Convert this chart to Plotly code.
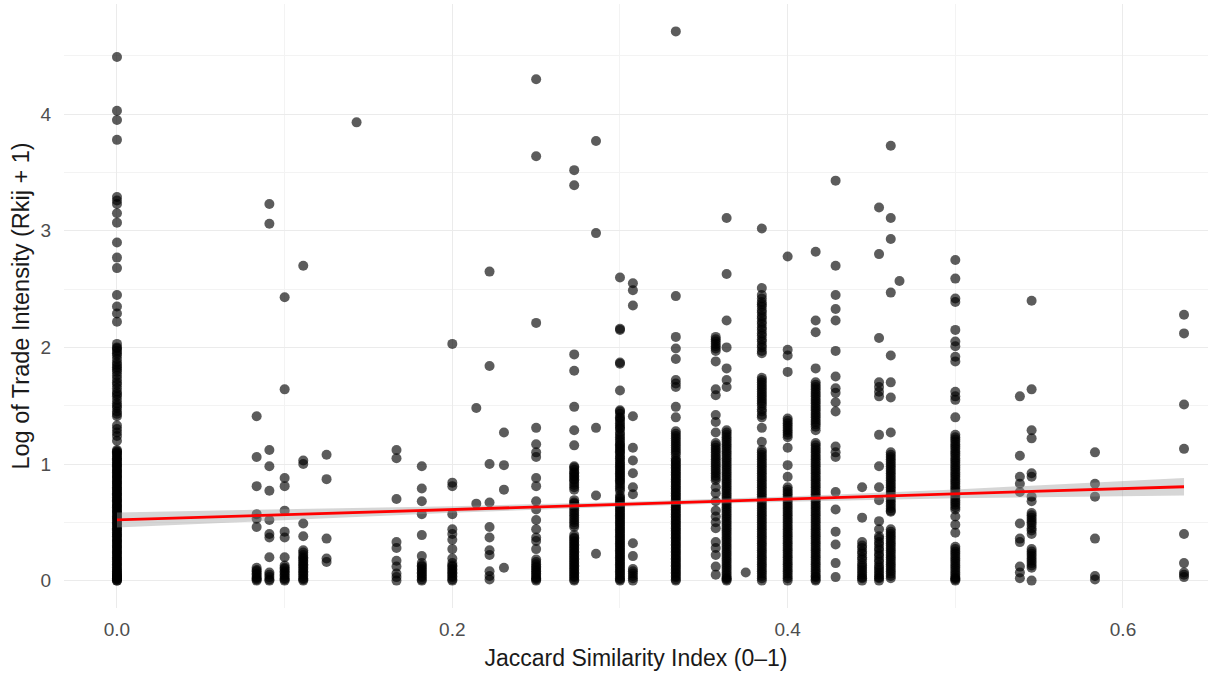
import plotly.graph_objects as go

# Jaccard similarity levels (x positions of the point columns)
x_levels = [0.0, 0.0833, 0.0909, 0.1, 0.1111, 0.125, 0.1429, 0.1667, 0.1818, 0.2,
            0.2143, 0.2222, 0.2308, 0.25, 0.2727, 0.2857, 0.3, 0.3077, 0.3333, 0.3571,
            0.3636, 0.375, 0.3846, 0.4, 0.4167, 0.4286, 0.4444, 0.4545, 0.4615, 0.4667,
            0.5, 0.5385, 0.5455, 0.5833, 0.6364]

# Log of trade intensity per column
y_0000 = [4.49, 4.03, 3.95, 3.78, 3.29, 3.26, 3.23, 3.15, 3.07, 2.90, 2.77, 2.68, 2.45, 2.35, 2.29, 2.22,
          2.03, 2.00, 1.97, 1.93, 1.90, 1.87, 1.83, 1.79, 1.76, 1.73, 1.70, 1.65, 1.62, 1.58, 1.55, 1.52,
          1.48, 1.45, 1.41, 1.33, 1.30, 1.27, 1.24, 1.20, 1.12, 1.10, 1.08, 1.05, 1.03, 1.00, 0.98, 0.95,
          0.93, 0.90, 0.88, 0.85, 0.83, 0.80, 0.78, 0.75, 0.73, 0.70, 0.68, 0.65, 0.63, 0.60, 0.58, 0.55,
          0.53, 0.50, 0.48, 0.45, 0.43, 0.40, 0.38, 0.35, 0.33, 0.30, 0.28, 0.25, 0.23, 0.20, 0.18, 0.15,
          0.13, 0.10, 0.08, 0.05, 0.03, 0.01, 0.00, 0.00, 0.02, 0.04, 0.06,
          1.11, 1.09, 1.065, 1.04, 1.015, 0.99, 0.965, 0.94, 0.915, 0.89, 0.865, 0.84, 0.815, 0.79,
          0.765, 0.74, 0.715, 0.69, 0.665, 0.64, 0.615, 0.59, 0.565, 0.54, 0.515, 0.49, 0.465, 0.44,
          0.415, 0.39, 0.365, 0.34, 0.315, 0.29, 0.265, 0.24, 0.215, 0.19, 0.165, 0.14, 0.115, 0.09,
          0.065, 0.04, 0.015, 1.99, 1.95, 1.85, 1.81, 1.68, 1.60, 1.50, 1.43]
y_0833 = [1.41, 1.06, 0.81, 0.57, 0.53, 0.46, 0.11, 0.08, 0.05, 0.02, 0.00, 0.09, 0.06, 0.03, 0.01]
y_0909 = [3.23, 3.06, 1.12, 0.98, 0.77, 0.52, 0.40, 0.37, 0.20, 0.07, 0.03, 0.00, 0.05, 0.01]
y_1000 = [2.43, 1.64, 0.88, 0.81, 0.60, 0.42, 0.37, 0.20, 0.13, 0.10, 0.07, 0.04, 0.02, 0.00,
          0.11, 0.08, 0.05, 0.01]
y_1111 = [2.70, 1.03, 1.00, 0.49, 0.38, 0.26, 0.22, 0.19, 0.16, 0.13, 0.10, 0.07, 0.04, 0.02, 0.00,
          0.24, 0.20, 0.17, 0.14, 0.11, 0.08, 0.05, 0.01]
y_1250 = [1.08, 0.87, 0.36, 0.19, 0.16]
y_1429 = [3.93]
y_1667 = [1.12, 1.05, 0.70, 0.33, 0.28, 0.17, 0.12, 0.06, 0.03, 0.00]
y_1818 = [0.98, 0.79, 0.68, 0.57, 0.39, 0.21, 0.15, 0.12, 0.09, 0.06, 0.03, 0.00,
          0.13, 0.10, 0.07, 0.04, 0.01]
y_2000 = [2.03, 0.84, 0.81, 0.57, 0.44, 0.40, 0.35, 0.27, 0.19, 0.15, 0.12, 0.09, 0.06, 0.03, 0.00,
          0.13, 0.10, 0.07, 0.04, 0.01]
y_2143 = [1.48, 0.66]
y_2222 = [2.65, 1.84, 1.00, 0.67, 0.46, 0.37, 0.26, 0.22, 0.08, 0.04, 0.01]
y_2308 = [1.27, 0.99, 0.78, 0.11]
y_2500 = [4.30, 3.64, 2.21, 1.31, 1.17, 1.10, 1.06, 0.88, 0.81, 0.68, 0.61, 0.52, 0.44, 0.37, 0.34,
          0.27, 0.18, 0.14, 0.11, 0.08, 0.05, 0.02, 0.00, 0.16, 0.12, 0.09, 0.06, 0.03, 0.01]
y_2727 = [3.52, 3.39, 1.94, 1.80, 1.49, 1.29, 1.16, 0.98, 0.95, 0.92, 0.89, 0.86, 0.82, 0.78, 0.69,
          0.66, 0.62, 0.58, 0.54, 0.50, 0.46, 0.39, 0.36, 0.33, 0.30, 0.27, 0.24, 0.21, 0.18, 0.15,
          0.12, 0.09, 0.06, 0.03, 0.00,
          0.97, 0.93, 0.90, 0.87, 0.84, 0.80, 0.67, 0.64, 0.60, 0.56, 0.52, 0.48, 0.37, 0.34, 0.31,
          0.28, 0.25, 0.22, 0.19, 0.16, 0.13, 0.10, 0.07, 0.04, 0.01]
y_2857 = [3.77, 2.98, 1.31, 0.73, 0.23]
y_3000 = [2.60, 2.16, 2.15, 1.87, 1.86, 1.63, 1.46, 1.43, 1.40, 1.37, 1.33, 1.30, 1.27, 1.23, 1.19,
          1.16, 1.13, 1.10, 1.06, 1.03, 1.00, 0.97, 0.94, 0.91, 0.88, 0.85, 0.81, 0.77, 0.73, 0.70,
          0.67, 0.64, 0.61, 0.58, 0.55, 0.52, 0.49, 0.46, 0.43, 0.40, 0.37, 0.34, 0.31, 0.28, 0.25,
          0.22, 0.19, 0.16, 0.13, 0.10, 0.07, 0.04, 0.01, 0.00,
          1.45, 1.39, 1.35, 1.31, 1.25, 1.21, 1.17, 1.14, 1.11, 1.08, 1.05, 1.01, 0.98, 0.95, 0.92,
          0.89, 0.86, 0.83, 0.79, 0.71, 0.68, 0.65, 0.62, 0.59, 0.56, 0.53, 0.50, 0.47, 0.44, 0.41,
          0.38, 0.35, 0.32, 0.29, 0.26, 0.23, 0.20, 0.17, 0.14, 0.11, 0.08, 0.05, 0.02]
y_3077 = [2.55, 2.49, 2.36, 1.41, 1.14, 1.03, 0.92, 0.80, 0.74, 0.32, 0.21, 0.10, 0.06, 0.02,
          0.08, 0.04, 0.00]
y_3333 = [4.71, 2.44, 2.09, 1.99, 1.90, 1.72, 1.69, 1.66, 1.49, 1.40, 1.28, 1.24, 1.20, 1.16, 1.12,
          1.08, 1.03, 1.00, 0.97, 0.94, 0.91, 0.88, 0.85, 0.82, 0.79, 0.76, 0.73, 0.70, 0.67, 0.64,
          0.61, 0.58, 0.55, 0.52, 0.49, 0.46, 0.43, 0.40, 0.37, 0.34, 0.31, 0.28, 0.25, 0.22, 0.19,
          0.16, 0.13, 0.10, 0.07, 0.04, 0.01, 0.00,
          1.26, 1.22, 1.18, 1.14, 1.10, 1.05, 1.02, 0.99, 0.96, 0.93, 0.90, 0.87, 0.84, 0.81, 0.78,
          0.75, 0.72, 0.69, 0.66, 0.63, 0.60, 0.57, 0.54, 0.51, 0.48, 0.45, 0.42, 0.39, 0.36, 0.33,
          0.30, 0.27, 0.24, 0.21, 0.18, 0.15, 0.12, 0.09, 0.06, 0.03]
y_3571 = [2.09, 2.05, 2.01, 1.97, 1.88, 1.64, 1.59, 1.42, 1.36, 1.27, 1.18, 1.14, 1.10, 1.06, 1.02,
          0.98, 0.94, 0.90, 0.86, 0.80, 0.75, 0.68, 0.60, 0.55, 0.50, 0.45, 0.33, 0.28, 0.22, 0.12, 0.05,
          1.16, 1.12, 1.08, 1.04, 1.00, 0.96, 0.92, 0.88, 2.07, 2.03, 1.99]
y_3636 = [3.11, 2.63, 2.23, 2.00, 1.82, 1.72, 1.66, 1.29, 1.25, 1.21, 1.17, 1.13, 1.09, 1.05, 1.01,
          0.97, 0.93, 0.89, 0.85, 0.81, 0.77, 0.73, 0.69, 0.65, 0.61, 0.57, 0.53, 0.49, 0.45, 0.41,
          0.37, 0.33, 0.29, 0.25, 0.21, 0.17, 0.13, 0.09, 0.05, 0.02, 0.00,
          1.27, 1.23, 1.19, 1.15, 1.11, 1.07, 1.03, 0.99, 0.95, 0.91, 0.87, 0.83, 0.79, 0.75, 0.71,
          0.67, 0.63, 0.59, 0.55, 0.51, 0.47, 0.43, 0.39, 0.35, 0.31, 0.27, 0.23, 0.19, 0.15, 0.11,
          0.07, 0.03, 0.01]
y_3750 = [0.07]
y_3846 = [3.02, 2.51, 2.45, 2.39, 2.35, 2.30, 2.25, 2.20, 2.15, 2.10, 2.05, 2.00, 1.95, 1.74, 1.70,
          1.66, 1.62, 1.58, 1.54, 1.50, 1.45, 1.40, 1.31, 1.19, 1.12, 1.08, 1.04, 1.00, 0.96, 0.92,
          0.88, 0.84, 0.80, 0.76, 0.72, 0.68, 0.64, 0.60, 0.56, 0.52, 0.48, 0.44, 0.40, 0.36, 0.32,
          0.28, 0.24, 0.20, 0.16, 0.12, 0.08, 0.04, 0.00,
          2.42, 2.37, 2.32, 2.27, 2.22, 2.17, 2.12, 2.07, 2.02, 1.97, 1.72, 1.68, 1.64, 1.60, 1.56,
          1.52, 1.47, 1.42, 1.10, 1.06, 1.02, 0.98, 0.94, 0.90, 0.86, 0.82, 0.78, 0.74, 0.70, 0.66,
          0.62, 0.58, 0.54, 0.50, 0.46, 0.42, 0.38, 0.34, 0.30, 0.26, 0.22, 0.18, 0.14, 0.10, 0.06, 0.02]
y_4000 = [2.78, 1.98, 1.93, 1.79, 1.39, 1.35, 1.31, 1.27, 1.23, 1.14, 0.99, 0.89, 0.80, 0.76, 0.72,
          0.68, 0.64, 0.60, 0.56, 0.52, 0.48, 0.44, 0.40, 0.36, 0.32, 0.28, 0.24, 0.20, 0.16, 0.12,
          0.08, 0.04, 0.00,
          1.37, 1.33, 1.29, 1.25, 0.78, 0.74, 0.70, 0.66, 0.62, 0.58, 0.54, 0.50, 0.46, 0.42, 0.38,
          0.34, 0.30, 0.26, 0.22, 0.18, 0.14, 0.10, 0.06, 0.02]
y_4167 = [2.82, 2.23, 2.13, 1.82, 1.70, 1.66, 1.62, 1.58, 1.54, 1.50, 1.46, 1.42, 1.38, 1.34, 1.29,
          1.18, 1.14, 1.10, 1.06, 1.02, 0.98, 0.94, 0.90, 0.86, 0.82, 0.78, 0.74, 0.70, 0.66, 0.62,
          0.58, 0.54, 0.50, 0.46, 0.42, 0.38, 0.34, 0.30, 0.26, 0.22, 0.18, 0.14, 0.10, 0.06, 0.03, 0.00,
          1.68, 1.64, 1.60, 1.56, 1.52, 1.48, 1.44, 1.40, 1.36, 1.32, 1.16, 1.12, 1.08, 1.04, 1.00,
          0.96, 0.92, 0.88, 0.84, 0.80, 0.76, 0.72, 0.68, 0.64, 0.60, 0.56, 0.52, 0.48, 0.44, 0.40,
          0.36, 0.32, 0.28, 0.24, 0.20, 0.16, 0.12, 0.08, 0.04, 0.01]
y_4286 = [3.43, 2.70, 2.45, 2.33, 2.23, 1.97, 1.75, 1.65, 1.61, 1.53, 1.45, 1.15, 1.10, 1.06, 0.76,
          0.61, 0.42, 0.31, 0.15, 0.03]
y_4444 = [0.80, 0.54, 0.33, 0.28, 0.23, 0.18, 0.13, 0.09, 0.05, 0.02,
          0.30, 0.25, 0.20, 0.15, 0.11, 0.07, 0.03, 0.00]
y_4545 = [3.20, 2.80, 2.08, 1.70, 1.66, 1.62, 1.58, 1.25, 0.98, 0.80, 0.69, 0.51, 0.44, 0.38, 0.33,
          0.28, 0.23, 0.18, 0.13, 0.09, 0.05, 0.02, 0.36, 0.31, 0.26, 0.21, 0.16, 0.11, 0.07, 0.03, 0.00]
y_4615 = [3.73, 3.11, 2.93, 2.47, 1.93, 1.70, 1.57, 1.27, 1.10, 1.06, 1.02, 0.98, 0.94, 0.90, 0.86,
          0.82, 0.78, 0.74, 0.70, 0.66, 0.62, 0.59, 0.44, 0.40, 0.36, 0.32, 0.28, 0.24, 0.20, 0.16,
          0.12, 0.08, 0.04, 0.02,
          1.08, 1.04, 1.00, 0.96, 0.92, 0.88, 0.84, 0.80, 0.76, 0.72, 0.68, 0.64, 0.60, 0.42, 0.38,
          0.34, 0.30, 0.26, 0.22, 0.18, 0.14, 0.10, 0.06]
y_4667 = [2.57]
y_5000 = [2.75, 2.59, 2.42, 2.39, 2.15, 2.05, 2.01, 1.92, 1.88, 1.62, 1.58, 1.55, 1.40, 1.25, 1.21,
          1.17, 1.13, 1.09, 1.05, 1.01, 0.97, 0.93, 0.89, 0.85, 0.81, 0.77, 0.73, 0.69, 0.65, 0.61,
          0.55, 0.48, 0.41, 0.29, 0.25, 0.21, 0.17, 0.13, 0.09, 0.05, 0.02, 0.00,
          1.23, 1.19, 1.15, 1.11, 1.07, 1.03, 0.99, 0.95, 0.91, 0.87, 0.83, 0.79, 0.75, 0.71, 0.67,
          0.63, 0.27, 0.23, 0.19, 0.15, 0.11, 0.07, 0.03, 0.01]
y_5385 = [1.58, 1.07, 0.89, 0.83, 0.76, 0.49, 0.36, 0.33, 0.12, 0.07, 0.02]
y_5455 = [2.40, 1.64, 1.29, 1.22, 0.92, 0.89, 0.72, 0.68, 0.58, 0.54, 0.50, 0.45, 0.40, 0.27, 0.23,
          0.19, 0.15, 0.11, 0.00, 0.56, 0.52, 0.48, 0.43, 0.25, 0.21, 0.17, 0.13]
y_5833 = [1.10, 0.83, 0.72, 0.36, 0.04, 0.01]
y_6364 = [2.28, 2.12, 1.51, 1.13, 0.40, 0.15, 0.07, 0.05, 0.03]

# Linear fit with standard-error band
fit_x = [0.0, 0.1, 0.2, 0.3, 0.35, 0.4, 0.5, 0.6, 0.6364]
fit_y = [0.52, 0.565, 0.61, 0.654, 0.677, 0.699, 0.744, 0.789, 0.805]
fit_lo = [0.455, 0.52, 0.582, 0.634, 0.657, 0.677, 0.706, 0.724, 0.730]
fit_hi = [0.585, 0.61, 0.638, 0.674, 0.697, 0.721, 0.782, 0.854, 0.880]

x_ticks = [0.0, 0.2, 0.4, 0.6]
x_tick_text = ["0.0", "0.2", "0.4", "0.6"]
y_ticks = [0, 1, 2, 3, 4]
y_tick_text = ["0", "1", "2", "3", "4"]

columns = [y_0000, y_0833, y_0909, y_1000, y_1111, y_1250, y_1429, y_1667, y_1818, y_2000,
           y_2143, y_2222, y_2308, y_2500, y_2727, y_2857, y_3000, y_3077, y_3333, y_3571,
           y_3636, y_3750, y_3846, y_4000, y_4167, y_4286, y_4444, y_4545, y_4615, y_4667,
           y_5000, y_5385, y_5455, y_5833, y_6364]

px, py = [], []
for xv, ys in zip(x_levels, columns):
    for yv in ys:
        px.append(xv)
        py.append(yv)

fig = go.Figure()
fig.add_trace(go.Scatter(
    x=px, y=py, mode="markers",
    marker=dict(color="rgba(0,0,0,0.64)", size=10, line=dict(width=0)),
    hoverinfo="skip", showlegend=False))
fig.add_trace(go.Scatter(
    x=fit_x + fit_x[::-1], y=fit_hi + fit_lo[::-1], fill="toself",
    fillcolor="rgba(153,153,153,0.4)", line=dict(width=0), mode="lines",
    hoverinfo="skip", showlegend=False))
fig.add_trace(go.Scatter(
    x=fit_x, y=fit_y, mode="lines", line=dict(color="#FF0000", width=2.8),
    hoverinfo="skip", showlegend=False))

grid_major = "#EBEBEB"
grid_minor = "#F3F3F3"
fig.update_layout(
    width=1208, height=675,
    margin=dict(l=64, r=0, t=4, b=67),
    paper_bgcolor="white", plot_bgcolor="white",
    font=dict(family="Liberation Sans, Arial, sans-serif", color="#1A1A1A"),
    xaxis=dict(range=[-0.0316, 0.6507], tickvals=x_ticks, ticktext=x_tick_text,
               showgrid=True, gridcolor=grid_major, gridwidth=1.3, zeroline=False,
               showline=False, ticks="", tickfont=dict(size=19, color="#4D4D4D"),
               ticklabelstandoff=8,
               minor=dict(dtick=0.1, tick0=0, showgrid=True, gridcolor=grid_minor, gridwidth=0.8),
               title=dict(text="Jaccard Similarity Index (0–1)", font=dict(size=23, color="#1A1A1A"),
                          standoff=10)),
    yaxis=dict(range=[-0.235, 4.945], tickvals=y_ticks, ticktext=y_tick_text,
               showgrid=True, gridcolor=grid_major, gridwidth=1.3, zeroline=False,
               showline=False, ticks="", tickfont=dict(size=19, color="#4D4D4D"),
               ticklabelstandoff=12,
               minor=dict(dtick=0.5, tick0=0, showgrid=True, gridcolor=grid_minor, gridwidth=0.8),
               title=dict(text="Log of Trade Intensity (Rkij + 1)", font=dict(size=23.5, color="#1A1A1A"),
                          standoff=4)),
)
fig.write_html("out.html")
